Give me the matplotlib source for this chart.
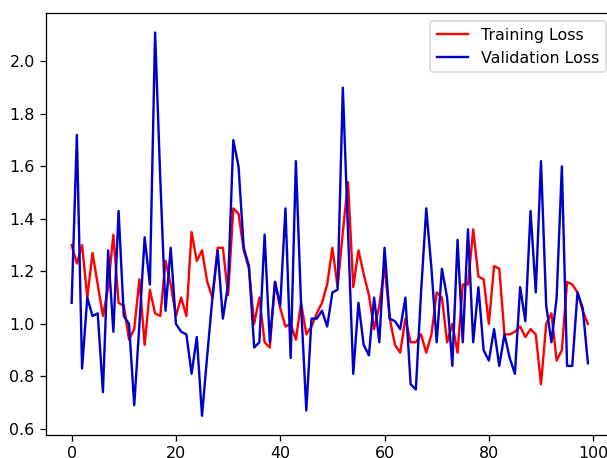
import matplotlib
matplotlib.use("Agg")
import matplotlib.pyplot as plt

# ==========================================
# Data
# ==========================================

epochs = list(range(100))

training_loss = [
    1.30, 1.23, 1.30, 1.10, 1.27, 1.15, 1.03, 1.14, 1.34, 1.08,
    1.07, 0.94, 0.98, 1.17, 0.92, 1.13, 1.04, 1.03, 1.24, 1.15,
    1.03, 1.10, 1.03, 1.35, 1.24, 1.28, 1.16, 1.10, 1.29, 1.29,
    1.11, 1.44, 1.42, 1.28, 1.21, 1.00, 1.10, 0.93, 0.91, 1.16,
    1.06, 0.99, 1.00, 0.94, 1.08, 0.96, 0.99, 1.04, 1.08, 1.15,
    1.29, 1.14, 1.35, 1.54, 1.14, 1.28, 1.19, 1.11, 0.98, 1.07,
    1.22, 1.02, 0.92, 0.89, 1.02, 0.93, 0.93, 0.96, 0.89, 0.96,
    1.12, 1.10, 0.93, 1.00, 0.89, 1.15, 1.15, 1.36, 1.18, 1.17,
    1.00, 1.22, 1.21, 0.96, 0.96, 0.97, 0.99, 0.95, 0.98, 0.96,
    0.77, 1.00, 1.04, 0.86, 0.90, 1.16, 1.15, 1.12, 1.05, 1.00,
]

validation_loss = [
    1.08, 1.72, 0.83, 1.10, 1.03, 1.04, 0.74, 1.28, 0.97, 1.43,
    1.03, 1.00, 0.69, 1.00, 1.33, 1.15, 2.11, 1.55, 1.05, 1.29,
    1.00, 0.97, 0.96, 0.81, 0.95, 0.65, 0.88, 1.10, 1.28, 1.02,
    1.15, 1.70, 1.60, 1.29, 1.22, 0.91, 0.93, 1.34, 0.93, 1.16,
    1.07, 1.44, 0.87, 1.62, 1.07, 0.67, 1.02, 1.02, 1.05, 0.99,
    1.12, 1.13, 1.90, 1.35, 0.81, 1.08, 0.92, 0.88, 1.10, 0.93,
    1.29, 1.02, 1.01, 0.98, 1.10, 0.77, 0.75, 1.12, 1.44, 1.21,
    0.93, 1.21, 1.10, 0.84, 1.32, 0.93, 1.36, 0.93, 1.14, 0.90,
    0.86, 0.98, 0.84, 0.96, 0.87, 0.81, 1.14, 1.01, 1.43, 1.12,
    1.62, 1.07, 0.93, 1.10, 1.60, 0.84, 0.84, 1.12, 1.06, 0.85,
]

# ==========================================
# Figure (reference is a scaled, cropped default plot)
# ==========================================

DPI = 114.5
fig = plt.figure(figsize=(607 / DPI, 458 / DPI), dpi=DPI)
ax = fig.add_axes([0.0755, 0.0504, 0.9356, 0.9205])

ax.plot(epochs, training_loss, color="red", label="Training Loss")
ax.plot(epochs, validation_loss, color="mediumblue", label="Validation Loss")

ax.set_yticks([0.6, 0.8, 1.0, 1.2, 1.4, 1.6, 1.8, 2.0])
ax.legend(loc="upper right")

fig.savefig("out.png", dpi=DPI)
